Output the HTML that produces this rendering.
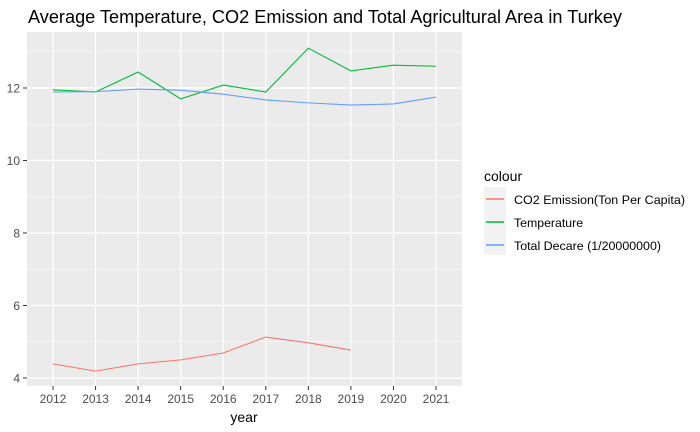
<!DOCTYPE html>
<html><head><meta charset="utf-8"><style>
body{margin:0;background:#fff;}
svg{display:block;font-family:"Liberation Sans",Arial,sans-serif;}
</style></head><body>
<svg id="chart" width="700" height="432">
<text x="28" y="23" font-size="18" textLength="594" lengthAdjust="spacingAndGlyphs" fill="#000">Average Temperature, CO2 Emission and Total Agricultural Area in Turkey</text>
<rect x="27" y="32" width="435" height="354" fill="#ebebeb"/>
<g id="grid"></g>
<g id="series"></g>
<g id="axes"></g>
<text x="244" y="422" font-size="14" text-anchor="middle" fill="#000">year</text>
<g>
<text x="484" y="181" font-size="14" fill="#000">colour</text>
<rect x="484" y="187" width="22" height="68" fill="#f2f2f2"/>
<line x1="486" x2="504" y1="199" y2="199" stroke="#F8766D" stroke-width="1.4"/>
<line x1="486" x2="504" y1="222" y2="222" stroke="#00BA38" stroke-width="1.4"/>
<line x1="486" x2="504" y1="245" y2="245" stroke="#619CFF" stroke-width="1.4"/>
<text x="514" y="204" font-size="12.3" textLength="171" lengthAdjust="spacingAndGlyphs" fill="#000">CO2 Emission(Ton Per Capita)</text>
<text x="514" y="227" font-size="12.3" fill="#000">Temperature</text>
<text x="514" y="250" font-size="12.3" textLength="147" lengthAdjust="spacingAndGlyphs" fill="#000">Total Decare (1/20000000)</text>
</g>
</svg>
<script>
const years=[2012,2013,2014,2015,2016,2017,2018,2019,2020,2021];
const co2=[4.39,4.19,4.39,4.50,4.69,5.13,4.97,4.77];
const temperature=[11.95,11.89,12.44,11.70,12.08,11.89,13.10,12.47,12.63,12.60];
const decare=[11.89,11.90,11.97,11.94,11.83,11.67,11.59,11.53,11.56,11.75];
const yMajor=[4,6,8,10,12];
const yMinor=[5,7,9,11,13];

const NS="http://www.w3.org/2000/svg";
const xS=i=>53+i*(436-53)/9;
const yS=v=>378-(v-4)*36.25;
function mk(tag,attrs,parent){const e=document.createElementNS(NS,tag);for(const k in attrs)e.setAttribute(k,attrs[k]);parent.appendChild(e);return e;}
const grid=document.getElementById('grid'),axes=document.getElementById('axes'),series=document.getElementById('series');
yMinor.forEach(v=>{const l=mk('line',{x1:27,x2:462,y1:yS(v),y2:yS(v),stroke:'#fff','stroke-width':0.6},grid);

});
yMajor.forEach(v=>{const l=mk('line',{x1:27,x2:462,y1:yS(v),y2:yS(v),stroke:'#fff','stroke-width':1.2},grid);


const t=mk('line',{x1:23,x2:27,y1:yS(v),y2:yS(v),stroke:'#333','stroke-width':1},axes);


const tx=mk('text',{x:20,y:yS(v)+4.5,'font-size':12,'text-anchor':'end',fill:'#4d4d4d'},axes);tx.textContent=v;

});
years.forEach((y,i)=>{const l=mk('line',{x1:xS(i),x2:xS(i),y1:32,y2:386,stroke:'#fff','stroke-width':1.2},grid);


const t=mk('line',{x1:xS(i),x2:xS(i),y1:386,y2:390,stroke:'#333'},axes);


const tx=mk('text',{x:xS(i),y:403,'font-size':12,'text-anchor':'middle',fill:'#4d4d4d'},axes);tx.textContent=y;

});
function line(arr,color,name){const p=mk('polyline',{points:arr.map((v,i)=>xS(i)+','+yS(v)).join(' '),fill:'none',stroke:color,'stroke-width':1.1},series);

}
line(co2,'#F8766D','co2-line');
line(temperature,'#00BA38','temperature-line');
line(decare,'#619CFF','decare-line');
</script>
</body></html>
